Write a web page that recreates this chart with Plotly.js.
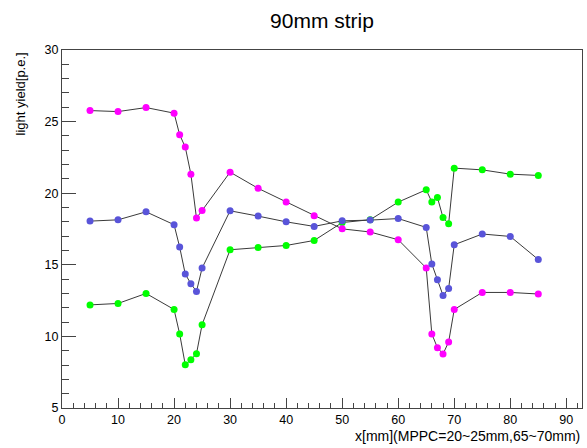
<!DOCTYPE html>
<html>
<head>
<meta charset="utf-8">
<script src="https://cdn.plot.ly/plotly-3.0.1.min.js"></script>
<style>
  html, body { margin: 0; padding: 0; background: #fff; }
  #chart { width: 587px; height: 448px; }
</style>
</head>
<body>
<div id="chart"></div>
<script>
// positions along the strip [mm]
const xPos = [5,10,15,20,21,22,23,24,25,30,35,40,45,50,55,60,65,66,67,68,69,70,75,80,85];

// light yield [p.e.] for the three series
const greenLY   = [12.2,12.3,13.0,11.88,10.17,8.02,8.37,8.79,10.82,16.05,16.2,16.35,16.7,17.95,18.15,19.38,20.24,19.38,19.7,18.3,17.86,21.75,21.63,21.33,21.24];
const magentaLY = [25.77,25.70,25.98,25.59,24.08,23.22,21.33,18.26,18.79,21.47,20.34,19.38,18.42,17.51,17.29,16.75,14.78,10.17,9.21,8.77,9.61,11.88,13.07,13.07,12.96];
const blueLY    = [18.05,18.14,18.70,17.80,16.24,14.35,13.68,13.14,14.77,18.77,18.40,18.00,17.68,18.07,18.12,18.23,17.61,15.05,13.96,12.86,13.35,16.40,17.15,16.98,15.37];

const chartTitle = "90mm strip";
const xTitle = "x[mm](MPPC=20~25mm,65~70mm)";
const yTitle = "light yield[p.e.]";

const FONT = "Liberation Sans, Arial, Helvetica, sans-serif";

function series(y, color) {
  return {
    x: xPos, y: y, type: "scatter", mode: "lines+markers",
    line: { color: "#3a3a3a", width: 1 },
    marker: { color: color, size: 7, symbol: "circle" },
    hoverinfo: "x+y", showlegend: false
  };
}

const data = [
  series(greenLY, "#00ff00"),
  series(magentaLY, "#ff00ff"),
  series(blueLY, "#5954d9")
];

const layout = {
  width: 587, height: 448,
  margin: { l: 62, r: 5, t: 50, b: 40 },
  paper_bgcolor: "#fff", plot_bgcolor: "#fff",
  font: { family: FONT, size: 12, color: "#000" },
  title: { text: chartTitle, x: 0.5, xref: "paper", y: 0.955, yref: "container",
           xanchor: "center", yanchor: "middle", font: { family: FONT, size: 21, color: "#000" } },
  xaxis: {
    range: [0, 92.8], showgrid: false, zeroline: false,
    showline: true, linecolor: "#444", linewidth: 1, mirror: true,
    ticks: "inside", ticklen: 10, tickwidth: 1, tickcolor: "#444",
    dtick: 10, tick0: 0,
    minor: { dtick: 2, ticks: "inside", ticklen: 5, tickcolor: "#444", showgrid: false },
    tickfont: { family: FONT, size: 12.5, color: "#000" }
  },
  yaxis: {
    range: [5, 30], showgrid: false, zeroline: false,
    showline: true, linecolor: "#444", linewidth: 1, mirror: true,
    ticks: "inside", ticklen: 14, tickwidth: 1, tickcolor: "#444",
    dtick: 5, tick0: 0,
    minor: { dtick: 1, ticks: "inside", ticklen: 7, tickcolor: "#444", showgrid: false },
    tickfont: { family: FONT, size: 12.5, color: "#000" }
  },
  annotations: [
    { text: xTitle, xref: "paper", yref: "paper", x: 1, y: -0.079,
      xanchor: "right", yanchor: "middle", showarrow: false,
      font: { family: FONT, size: 14, color: "#000" } },
    { text: yTitle, xref: "paper", yref: "paper", x: -0.079, y: 1,
      xanchor: "center", yanchor: "top", textangle: -90, showarrow: false,
      font: { family: FONT, size: 13, color: "#000" } }
  ]
};

Plotly.newPlot("chart", data, layout, { displayModeBar: false, staticPlot: true });
</script>
</body>
</html>
